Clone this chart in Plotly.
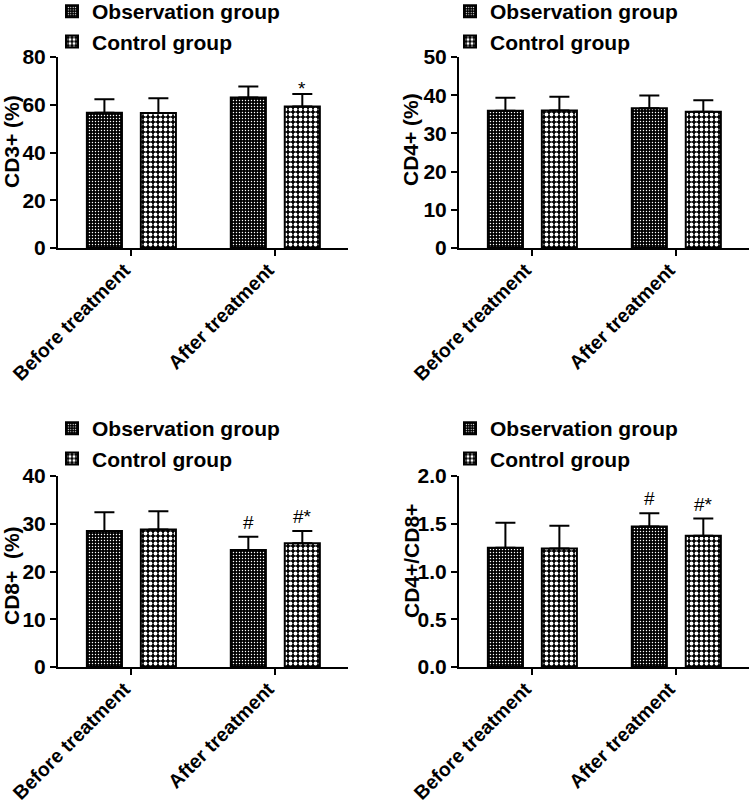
import plotly.graph_objects as go

W, H = 750, 807

categories = ["Before treatment", "After treatment"]
groups = ["Observation group", "Control group"]

cd3_obs = [56.7, 63.0]
cd3_obs_sd = [5.6, 4.6]
cd3_ctrl = [56.5, 59.3]
cd3_ctrl_sd = [6.2, 5.2]

cd4_obs = [35.9, 36.6]
cd4_obs_sd = [3.4, 3.3]
cd4_ctrl = [36.0, 35.7]
cd4_ctrl_sd = [3.6, 3.0]

cd8_obs = [28.5, 24.5]
cd8_obs_sd = [3.9, 2.8]
cd8_ctrl = [28.8, 25.9]
cd8_ctrl_sd = [3.8, 2.6]

ratio_obs = [1.25, 1.47]
ratio_obs_sd = [0.26, 0.14]
ratio_ctrl = [1.24, 1.375]
ratio_ctrl_sd = [0.24, 0.18]

y_titles = ["CD3+ (%)", "CD4+ (%)", "CD8+\u00a0 (%)", "CD4+/CD8+"]
y_max = [80, 50, 40, 2.0]
y_dtick = [20, 10, 10, 0.5]
y_fmt = ["d", "d", "d", ".1f"]

marks_obs = [["", ""], ["", ""], ["", "#"], ["", "#"]]
marks_ctrl = [["", "*"], ["", ""], ["", "#*"], ["", "#*"]]

panels = [
    (cd3_obs, cd3_obs_sd, cd3_ctrl, cd3_ctrl_sd),
    (cd4_obs, cd4_obs_sd, cd4_ctrl, cd4_ctrl_sd),
    (cd8_obs, cd8_obs_sd, cd8_ctrl, cd8_ctrl_sd),
    (ratio_obs, ratio_obs_sd, ratio_ctrl, ratio_ctrl_sd),
]

# pixel layout of each plot area: (left, right, top, bottom)
px_boxes = [
    (58, 348, 57, 248),
    (459, 749, 57, 248),
    (58, 348, 476, 667),
    (459, 749, 476, 667),
]
leg_pos = [(52, -9), (450, -9), (52, 408), (450, 408)]
ytitle_pos = [(11, 142), (411, 140), (11, 576), (411, 561)]

FONT = "Liberation Sans, Arial, Helvetica, sans-serif"
XFONT = dict(family=FONT, size=19.5, color="black", weight="bold")
YFONT = dict(family=FONT, size=21, color="black", weight="bold")
LFONT = dict(family=FONT, size=21, color="black", weight="bold")
TFONT = dict(family=FONT, size=21, color="black", weight="bold")

obs_pattern = dict(shape=".", fgcolor="white", bgcolor="black", size=3, solidity=0.18, fillmode="replace")
ctrl_pattern = dict(shape=".", fgcolor="white", bgcolor="black", size=5, solidity=0.45, fillmode="replace")

fig = go.Figure()
annotations = []
layout = {}

for i, (o, osd, c, csd) in enumerate(panels):
    xa = "x" if i == 0 else f"x{i+1}"
    ya = "y" if i == 0 else f"y{i+1}"
    leg = "legend" if i == 0 else f"legend{i+1}"
    for name, vals, sd, pat, gi in [(groups[0], o, osd, obs_pattern, 0), (groups[1], c, csd, ctrl_pattern, 1)]:
        fig.add_trace(go.Bar(
            x=[0, 1], y=vals, name=name, xaxis=xa, yaxis=ya, legend=leg,
            legendgroup=f"g{i}_{gi}",
            marker=dict(color="white", pattern=pat, line=dict(color="black", width=2)),
            error_y=dict(type="data", array=sd, arrayminus=[0, 0], symmetric=False,
                         color="black", thickness=2, width=10),
            hoverinfo="skip",
        ))
    l, r, t, b = px_boxes[i]
    layout["xaxis" if i == 0 else f"xaxis{i+1}"] = dict(
        domain=[l / W, r / W], anchor=ya, range=[-0.51, 1.505],
        tickvals=[0, 1], ticktext=categories, tickangle=-45,
        ticklabelshift=-7, ticklabelstandoff=-5,
        showline=True, linecolor="black", linewidth=2,
        ticks="outside", ticklen=6, tickwidth=2, tickcolor="black",
        tickfont=XFONT, showgrid=False, zeroline=False, fixedrange=True, automargin=False,
    )
    layout["yaxis" if i == 0 else f"yaxis{i+1}"] = dict(
        domain=[1 - b / H, 1 - t / H], anchor=xa, range=[0, y_max[i]],
        dtick=y_dtick[i], tick0=0, tickformat=y_fmt[i],
        showline=True, linecolor="black", linewidth=2,
        ticks="outside", ticklen=6, tickwidth=2, tickcolor="black",
        tickfont=YFONT, showgrid=False, zeroline=False, fixedrange=True, automargin=False,
    )
    lx, ly = leg_pos[i]
    layout[leg] = dict(
        xref="paper", yref="paper", x=lx / W, y=1 - ly / H,
        xanchor="left", yanchor="top", bgcolor="rgba(0,0,0,0)",
        font=LFONT, tracegroupgap=6, traceorder="normal",
        itemclick=False, itemdoubleclick=False,
    )
    tx, ty = ytitle_pos[i]
    annotations.append(dict(
        xref="paper", yref="paper", x=tx / W, y=1 - ty / H, text=y_titles[i],
        textangle=-90, showarrow=False, font=TFONT,
        xanchor="center", yanchor="middle",
    ))
    for gi, (vals, sd, mk) in enumerate([(o, osd, marks_obs[i]), (c, csd, marks_ctrl[i])]):
        for k in range(2):
            if mk[k]:
                annotations.append(dict(
                    xref=xa, yref=ya, x=k + (-27 if gi == 0 else 27) / 144, y=vals[k] + sd[k],
                    text=mk[k], showarrow=False, yanchor="bottom", xanchor="center",
                    yshift=-7 if mk[k] == "*" else 2,
                    font=dict(family=FONT, size=19, color="black"),
                ))

fig.update_layout(
    width=W, height=H, margin=dict(l=0, r=0, t=0, b=0, autoexpand=False),
    paper_bgcolor="white", plot_bgcolor="white",
    barmode="group", bargap=0.25, bargroupgap=0.35,
    annotations=annotations, **layout,
)

fig.write_html("out.html")
